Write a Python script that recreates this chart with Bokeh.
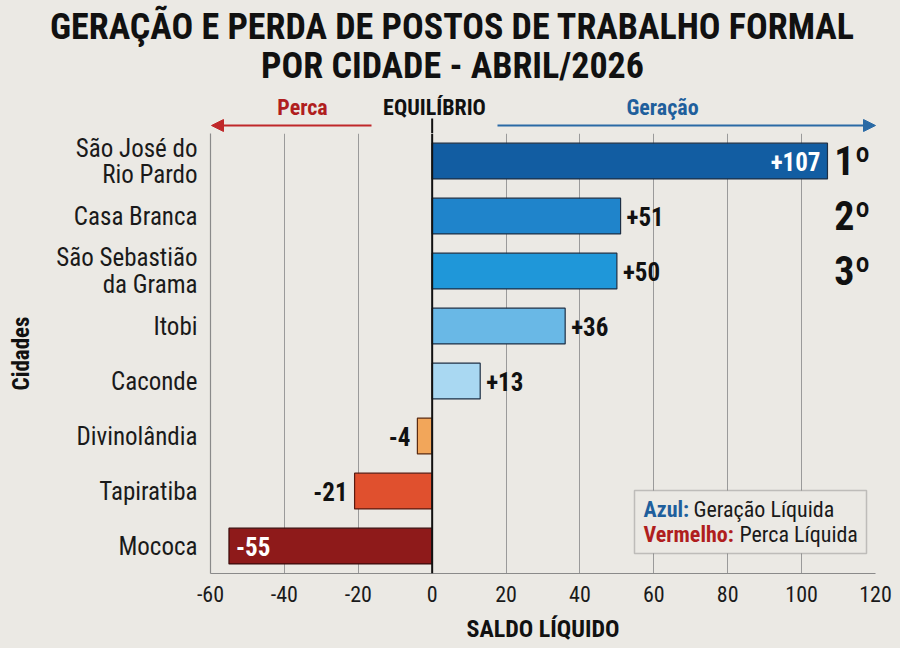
from bokeh.plotting import figure
from bokeh.layouts import column
from bokeh.models import (FactorRange, Range1d, FixedTicker, Label, Arrow,
                          NormalHead, BoxAnnotation, ColumnDataSource, Span)
from bokeh.core.properties import value
from bokeh.embed import file_html
from bokeh.resources import INLINE

# ---- data ---------------------------------------------------------------
cidades = ["São José do\nRio Pardo", "Casa Branca", "São Sebastião\nda Grama",
           "Itobi", "Caconde", "Divinolândia", "Tapiratiba", "Mococa"]
saldo = [107, 51, 50, 36, 13, -4, -21, -55]
cores = ["#125da2", "#1f84cb", "#1f97d9", "#69b8e6", "#a9d8f2",
         "#f2a65a", "#e0502e", "#8e1a1a"]
posicoes = ["1º", "2º", "3º"]
x_ticks = [-60, -40, -20, 0, 20, 40, 60, 80, 100, 120]

# ---- layout constants ---------------------------------------------------
W = 900
HEAD_H = 133                      # header strip: title + direction arrows
MAIN_H = 515
FL, FR, FB = 210, 25, 75
X0, X1 = -60, 120
FRAME_W = W - FL - FR
FRAME_BOTTOM = MAIN_H - FB
ROW = FRAME_BOTTOM / len(cidades)

BG = "#ebe9e4"
FONT = "'Roboto Condensed', 'DejaVu Sans Condensed', 'Liberation Sans Narrow', Roboto, sans-serif"
BLUE_TXT = "#1f5f9c"
RED_TXT = "#b01e1e"


def sx(px):
    """canvas pixel column -> x data value"""
    return X0 + (px - FL) * (X1 - X0) / FRAME_W


def sy(px):
    """pixel row of the whole page -> synthetic y of the category axis"""
    return (FRAME_BOTTOM - (px - HEAD_H)) / ROW


# ======================= header strip ====================================
h = figure(width=W, height=HEAD_H,
           x_range=Range1d(sx(0), sx(W)), y_range=Range1d(HEAD_H, 0),
           x_axis_location=None, y_axis_location=None,
           output_backend="svg", toolbar_location=None, title=None,
           min_border_left=0, min_border_right=0,
           min_border_top=0, min_border_bottom=0,
           background_fill_color=BG, border_fill_color=BG,
           outline_line_color=None)
h.grid.visible = False

for ypx, t in [(26, "GERAÇÃO E PERDA DE POSTOS DE TRABALHO FORMAL"),
               (65, "POR CIDADE - ABRIL/2026")]:
    h.add_layout(Label(x=sx(452), y=ypx, text=t, text_align="center",
                       text_baseline="middle", text_font=FONT,
                       text_font_style="bold", text_font_size="36px",
                       text_color="#111111"))

for x, t, col in [(sx(302), "Perca", RED_TXT),
                  (sx(434), "EQUILÍBRIO", "#111111"),
                  (sx(662), "Geração", BLUE_TXT)]:
    h.add_layout(Label(x=x, y=107, text=t, text_align="center",
                       text_baseline="middle", text_font=FONT,
                       text_font_style="bold", text_font_size="22px",
                       text_color=col))

h.add_layout(Arrow(x_start=sx(371), y_start=125, x_end=sx(211), y_end=125,
                   line_color="#c0282a", line_width=2,
                   end=NormalHead(size=12, fill_color="#c0282a",
                                  line_color="#c0282a")))
h.add_layout(Arrow(x_start=sx(497), y_start=125, x_end=sx(875), y_end=125,
                   line_color="#2a6aa5", line_width=2,
                   end=NormalHead(size=12, fill_color="#2a6aa5",
                                  line_color="#2a6aa5")))
# top stub of the zero line
h.add_layout(Arrow(x_start=0, y_start=118, x_end=0, y_end=HEAD_H + 2,
                   start=None, end=None, line_color="#111111", line_width=2))

# ======================= main chart ======================================
p = figure(width=W, height=MAIN_H,
           y_range=FactorRange(factors=cidades[::-1]),
           x_range=Range1d(X0, X1),
           output_backend="svg", toolbar_location=None, title=None,
           min_border_left=FL, min_border_right=FR,
           min_border_top=0, min_border_bottom=FB,
           background_fill_color=BG, border_fill_color=BG,
           outline_line_color=None)

# each strip keeps its own frame geometry inside the column
for fig in (h, p):
    if hasattr(fig, "frame_align"):
        fig.frame_align = False

src = ColumnDataSource(dict(
    cidade=cidades, saldo=saldo, cor=cores,
    linha=["#1d2f45"] * 5 + ["#5a2a10", "#5a1a10", "#3a0a0a"],
))
p.hbar(y="cidade", left=0, right="saldo", height=0.65, source=src,
       fill_color="cor", line_color="linha", line_width=1.2)

# value labels: inside the longest bars, outside the others
txt = [f"{v:+d}" for v in saldo]
inside = [v >= 100 or v <= -50 for v in saldo]
groups = {}
for c, v, t, ins in zip(cidades, saldo, txt, inside):
    if v >= 0:
        align, off = ("right", -7) if ins else ("left", 6)
    else:
        align, off = ("left", 7) if ins else ("right", -7)
    key = (align, off, "white" if ins else "#111111")
    g = groups.setdefault(key, dict(cidade=[], saldo=[], txt=[]))
    g["cidade"].append(c)
    g["saldo"].append(v)
    g["txt"].append(t)
for (align, off, col), g in groups.items():
    p.text(x="saldo", y="cidade", text="txt", source=ColumnDataSource(g),
           x_offset=off, text_align=align, text_baseline="middle",
           text_font=value(FONT), text_font_style="bold",
           text_font_size="25px", text_color=col)

# ranking marks for the three largest gains
p.text(x=[sx(852)] * len(posicoes), y=cidades[:len(posicoes)], text=posicoes,
       text_align="center", text_baseline="middle", text_font=value(FONT),
       text_font_style="bold", text_font_size="40px", text_color="#111111")

# zero line
p.add_layout(Span(location=0, dimension="height", line_color="#111111",
                  line_width=2))

# legend box
p.add_layout(BoxAnnotation(left=sx(634), right=sx(866), top=sy(490),
                           bottom=sy(553), fill_color=BG, fill_alpha=1,
                           line_color="#555555", line_width=1.5))
for ypx, key, kcol, desc, off in [(509, "Azul:", BLUE_TXT, "Geração Líquida", 50),
                                  (534, "Vermelho:", RED_TXT, "Perca Líquida", 96)]:
    p.add_layout(Label(x=sx(643), y=sy(ypx), text=key,
                       text_baseline="middle", text_font=FONT,
                       text_font_style="bold", text_font_size="22px",
                       text_color=kcol))
    p.add_layout(Label(x=sx(643), y=sy(ypx), x_offset=off, text=desc,
                       text_baseline="middle", text_font=FONT,
                       text_font_size="22px", text_color="#1a1a1a"))

# axes and grid
p.xaxis.ticker = FixedTicker(ticks=x_ticks)
p.xaxis.major_label_overrides = {t: str(t) for t in x_ticks}
p.xgrid.ticker = FixedTicker(ticks=x_ticks)
p.xgrid.grid_line_color = "#9a9a9a"
p.xgrid.grid_line_width = 1
p.ygrid.grid_line_color = None

p.xaxis.axis_label = "SALDO LÍQUIDO"
p.yaxis.axis_label = "Cidades"
for ax in (p.xaxis, p.yaxis):
    ax.axis_line_color = "#8a8a8a"
    ax.axis_line_width = 1.2
    ax.major_tick_in = 0
    ax.major_tick_out = 0
    ax.minor_tick_in = 0
    ax.minor_tick_out = 0
    ax.major_label_text_font = FONT
    ax.major_label_text_color = "#1a1a1a"
    ax.axis_label_text_font = FONT
    ax.axis_label_text_font_style = "bold"
    ax.axis_label_text_color = "#111111"

p.xaxis.major_label_text_font_size = "22px"
p.yaxis.major_label_text_font_size = "25px"
p.xaxis.axis_label_text_font_size = "24px"
p.yaxis.axis_label_text_font_size = "23px"
p.yaxis.major_label_text_line_height = 0.9
p.xaxis.major_label_standoff = 12
p.xaxis.axis_label_standoff = 10
p.yaxis.major_label_standoff = 13
p.yaxis.axis_label_standoff = 18

layout = column(h, p, spacing=0)
# paint the container too, so no seam shows between the two strips
layout.styles = {"background-color": BG}
open("out.html", "w").write(file_html(layout, INLINE))
